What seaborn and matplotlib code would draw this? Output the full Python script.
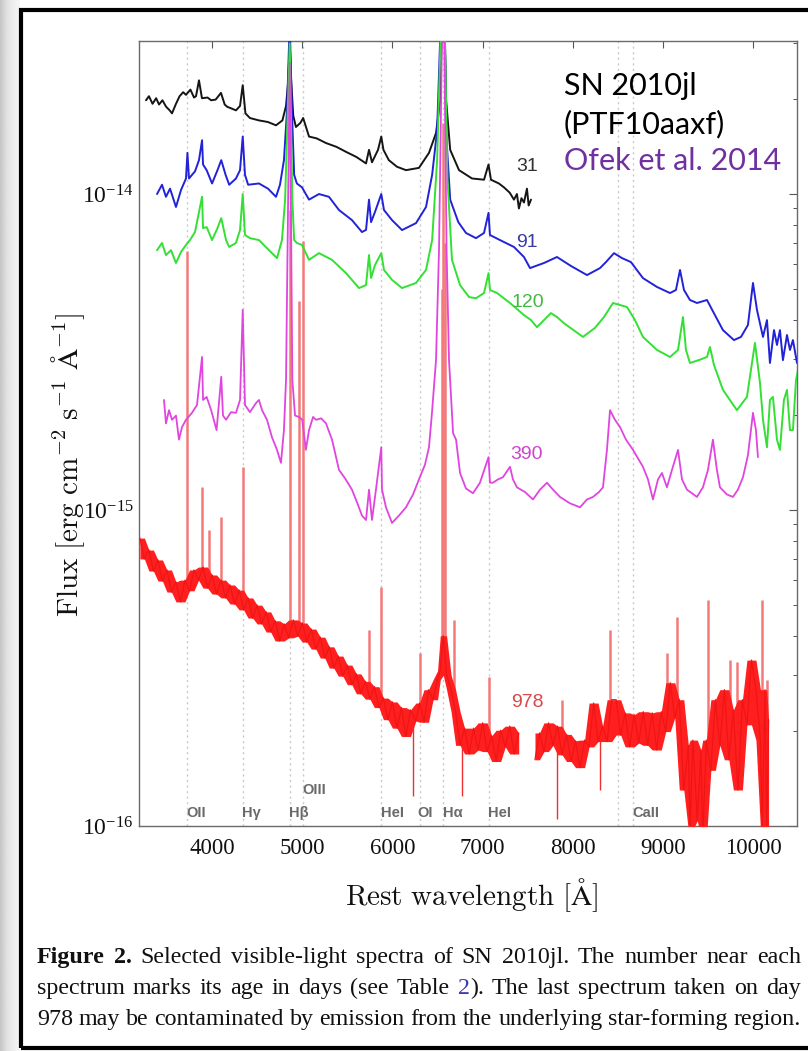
import numpy as np
import pandas as pd
import matplotlib
matplotlib.use("Agg")
import matplotlib.pyplot as plt
import seaborn as sns
from matplotlib.patches import Rectangle
from matplotlib.ticker import NullLocator, FixedLocator, LogFormatterSciNotation, NullFormatter

# ---------------- data (wavelength in Angstrom, flux in 1e-15 erg/cm2/s/A) ----------------
black_wave = [3268, 3300, 3340, 3380, 3412, 3450, 3490, 3530, 3556, 3600,
              3640, 3680, 3711, 3760, 3800, 3822, 3855, 3888, 3950, 3990,
              4040, 4099, 4140, 4166, 4265, 4310, 4340, 4370, 4420, 4520,
              4620, 4709, 4780, 4820, 4845, 4861, 4877, 4900, 4930, 4980,
              5010, 5075, 5160, 5263, 5380, 5485, 5600, 5707, 5740, 5773,
              5840, 5876, 5900, 5960, 6050, 6150, 6294, 6405, 6483, 6530,
              6563, 6595, 6640, 6738, 6882, 7015, 7065, 7092, 7180, 7236,
              7300, 7347, 7380, 7402, 7430, 7458, 7491, 7510, 7536]
black_flux = [19.8, 20.4, 19.3, 20.1, 19.2, 19.8, 18.9, 18.4, 18.0, 19.3,
              20.4, 21.0, 20.6, 21.4, 20.2, 20.4, 22.9, 20.1, 20.2, 19.8,
              19.9, 20.9, 19.2, 18.9, 18.4, 19.0, 22.1, 18.0, 17.4, 17.1,
              16.9, 16.5, 17.1, 19.0, 22.9, 30.0, 22.9, 17.7, 16.3, 16.8,
              17.4, 15.2, 15.0, 14.5, 14.1, 13.6, 13.1, 12.5, 13.8, 12.6,
              13.8, 15.2, 13.8, 12.8, 12.2, 11.9, 12.1, 13.5, 15.6, 19.8,
              60.0, 19.8, 13.8, 11.9, 11.2, 11.1, 12.4, 11.1, 10.8, 10.5,
              10.1, 9.6, 10.0, 9.0, 9.7, 9.4, 10.4, 9.2, 9.6]

blue_wave = [3390, 3445, 3489, 3534, 3600, 3656, 3711, 3727, 3744, 3811,
             3855, 3889, 3900, 3940, 4000, 4060, 4102, 4150, 4190, 4265,
             4310, 4340, 4365, 4400, 4520, 4620, 4709, 4753, 4797, 4831,
             4861, 4885, 4910, 4940, 4997, 5075, 5185, 5296, 5407, 5551,
             5662, 5707, 5740, 5763, 5806, 5876, 5906, 5995, 6106, 6261,
             6372, 6440, 6495, 6563, 6600, 6640, 6730, 6815, 6926, 7015,
             7065, 7081, 7192, 7347, 7458, 7525, 7680, 7824, 7979, 8157,
             8301, 8367, 8456, 8545, 8644, 8777, 8933, 9077, 9143, 9188,
             9232, 9298, 9376, 9487, 9575, 9664, 9786, 9864, 9941, 9997,
             10041, 10108, 10152, 10185, 10230, 10263, 10296, 10329, 10374, 10407,
             10440, 10485]
blue_flux = [10.0, 10.7, 9.8, 10.4, 9.1, 10.3, 11.2, 13.5, 11.2, 11.8,
             12.8, 14.8, 12.4, 11.9, 10.8, 11.9, 12.8, 11.5, 10.7, 11.2,
             11.9, 15.2, 11.5, 10.7, 10.8, 10.4, 9.8, 10.7, 12.8, 18.4,
             35.0, 18.4, 11.5, 10.8, 10.5, 9.6, 10.0, 9.8, 8.9, 8.27,
             7.58, 7.7, 9.6, 8.15, 8.77, 10.0, 8.9, 8.27, 7.69, 8.09,
             9.1, 11.5, 15.9, 60.0, 14.8, 9.6, 8.15, 7.53, 7.25, 7.53,
             8.72, 7.42, 7.15, 6.80, 6.32, 5.83, 6.05, 6.32, 5.92, 5.54,
             5.83, 6.09, 6.5, 6.27, 6.09, 5.42, 5.08, 4.86, 4.97, 5.75,
             4.97, 4.62, 4.52, 4.62, 4.14, 3.71, 3.45, 3.53, 3.85, 5.23,
             4.30, 3.53, 3.99, 2.92, 3.71, 3.33, 3.71, 2.98, 3.58, 3.21,
             3.45, 2.92]

green_wave = [3390, 3445, 3489, 3545, 3600, 3656, 3711, 3755, 3811, 3889,
              3900, 3940, 4000, 4060, 4102, 4155, 4190, 4265, 4310, 4340,
              4365, 4420, 4520, 4664, 4720, 4775, 4810, 4861, 4890, 4910,
              4940, 4997, 5075, 5185, 5330, 5485, 5629, 5707, 5740, 5763,
              5806, 5876, 5906, 5995, 6106, 6261, 6372, 6440, 6495, 6563,
              6610, 6660, 6749, 6849, 6926, 7015, 7065, 7081, 7160, 7303,
              7458, 7536, 7602, 7757, 7824, 7902, 8112, 8245, 8345, 8445,
              8600, 8689, 8777, 8933, 9077, 9166, 9221, 9254, 9298, 9409,
              9487, 9520, 9564, 9664, 9819, 9930, 10019, 10075, 10108, 10152,
              10185, 10218, 10263, 10296, 10340, 10374, 10407, 10440, 10474, 10496]
green_flux = [6.64, 7.0, 6.41, 6.64, 6.05, 6.56, 6.9, 7.15, 7.58, 9.8,
              7.8, 7.86, 7.15, 7.8, 8.39, 7.15, 6.80, 7.0, 7.69, 10.0,
              7.42, 7.25, 7.15, 6.5, 6.27, 7.15, 9.6, 30.0, 9.6, 7.15,
              7.0, 6.9, 6.19, 6.5, 6.19, 5.62, 5.04, 5.15, 6.41, 5.42,
              5.96, 6.5, 5.75, 5.35, 5.04, 5.23, 5.75, 7.15, 12.8, 60.0,
              11.1, 6.19, 5.15, 4.72, 4.68, 4.86, 5.62, 4.97, 4.86, 4.52,
              4.14, 3.99, 3.79, 4.2, 4.08, 3.9, 3.53, 3.77, 4.08, 4.52,
              4.39, 3.99, 3.53, 3.21, 3.05, 3.21, 4.08, 3.21, 2.92, 2.99,
              3.05, 3.28, 2.88, 2.4, 2.07, 2.28, 3.38, 2.52, 1.93, 1.58,
              2.23, 2.28, 1.67, 1.55, 2.23, 2.4, 1.79, 1.79, 2.58, 2.77]

magenta_wave = [3467, 3489, 3523, 3556, 3600, 3633, 3667, 3711, 3777, 3833,
                3889, 3900, 3940, 3990, 4050, 4102, 4121, 4155, 4210, 4265,
                4310, 4340, 4365, 4420, 4487, 4520, 4554, 4609, 4664, 4720,
                4764, 4797, 4820, 4861, 4890, 4920, 4964, 5000, 5040, 5075,
                5120, 5152, 5210, 5263, 5330, 5407, 5474, 5551, 5617, 5662,
                5707, 5740, 5773, 5817, 5876, 5884, 5928, 5995, 6072, 6150,
                6228, 6294, 6360, 6405, 6438, 6483, 6516, 6563, 6600, 6627,
                6672, 6705, 6749, 6815, 6893, 6970, 7065, 7081, 7114, 7170,
                7225, 7303, 7336, 7380, 7469, 7558, 7636, 7713, 7780, 7857,
                7968, 8079, 8157, 8223, 8290, 8334, 8378, 8412, 8467, 8523,
                8589, 8667, 8777, 8833, 8888, 8944, 8988, 9043, 9099, 9166,
                9210, 9265, 9376, 9442, 9498, 9553, 9597, 9631, 9708, 9775,
                9830, 9886, 9941, 9997, 10030, 10052]
magenta_flux = [2.23, 1.88, 2.07, 1.93, 1.99, 1.67, 1.83, 1.93, 2.03, 2.15,
                3.05, 2.23, 2.28, 2.07, 1.79, 2.64, 1.99, 1.93, 2.04, 2.03,
                2.23, 4.30, 2.15, 2.04, 2.18, 2.23, 2.07, 1.93, 1.70, 1.55,
                1.41, 1.79, 2.58, 26.0, 2.58, 1.99, 1.97, 1.93, 1.55, 1.79,
                1.97, 1.93, 1.95, 1.88, 1.67, 1.34, 1.26, 1.16, 1.04, 0.96,
                0.93, 1.16, 0.93, 1.16, 1.58, 1.16, 1.02, 0.91, 0.96, 1.02,
                1.12, 1.25, 1.39, 1.58, 2.03, 2.98, 6.64, 60.0, 6.64, 2.98,
                1.75, 1.67, 1.31, 1.17, 1.13, 1.22, 1.47, 1.22, 1.22, 1.25,
                1.27, 1.37, 1.25, 1.18, 1.14, 1.08, 1.16, 1.22, 1.16, 1.10,
                1.05, 1.02, 1.08, 1.10, 1.14, 1.18, 1.55, 2.07, 1.93, 1.83,
                1.67, 1.55, 1.37, 1.25, 1.08, 1.25, 1.31, 1.18, 1.34, 1.55,
                1.25, 1.16, 1.10, 1.18, 1.34, 1.67, 1.34, 1.18, 1.12, 1.10,
                1.16, 1.27, 1.49, 2.03, 1.79, 1.47]

# day-978 continuum (noisy), its narrow emission lines and sharp dips
red_wave = [3200, 3250, 3300, 3350, 3400, 3450, 3500, 3550, 3600, 3650,
            3700, 3750, 3800, 3850, 3900, 3950, 4000, 4050, 4100, 4150,
            4200, 4250, 4300, 4350, 4400, 4450, 4500, 4550, 4600, 4650,
            4700, 4750, 4800, 4850, 4900, 4950, 5000, 5050, 5100, 5150,
            5200, 5250, 5300, 5350, 5400, 5450, 5500, 5550, 5600, 5650,
            5700, 5750, 5800, 5850, 5900, 5950, 6000, 6050, 6100, 6150,
            6200, 6260, 6300, 6350, 6400, 6450, 6500, 6530, 6563,
            6600, 6650, 6700, 6750, 6800, 6850, 6900, 6950, 7000, 7050,
            7100, 7150, 7200, 7250, 7300, 7350, 7400, 7480, 7580, 7630,
            7680, 7730, 7780, 7830, 7880, 7930, 7980, 8030, 8080,
            8130, 8180, 8230, 8280, 8330, 8380, 8430, 8480, 8530, 8580,
            8630, 8680, 8730, 8780, 8830, 8880, 8930, 8980, 9030, 9080,
            9130, 9180, 9230, 9280, 9300, 9330, 9380, 9420, 9440, 9480,
            9530, 9580, 9630, 9680, 9730, 9780, 9830, 9880, 9930, 9980,
            10030, 10080, 10100, 10130, 10150, 10170]
red_flux = [0.815, 0.700, 0.747, 0.641, 0.695, 0.596, 0.646, 0.550, 0.592, 0.512,
            0.600, 0.555, 0.646, 0.600, 0.660, 0.566, 0.623, 0.542, 0.600, 0.527,
            0.579, 0.504, 0.558, 0.483, 0.527, 0.455, 0.500, 0.436, 0.476, 0.411,
            0.446, 0.385, 0.436, 0.394, 0.449, 0.399, 0.439, 0.382, 0.420, 0.363,
            0.396, 0.340, 0.369, 0.316, 0.345, 0.298, 0.323, 0.280, 0.303, 0.262,
            0.287, 0.252, 0.276, 0.237, 0.254, 0.217, 0.247, 0.204, 0.237, 0.192,
            0.233, 0.215, 0.245, 0.213, 0.270, 0.251, 0.290, 0.31, 0.40,
            0.30, 0.27, 0.230, 0.180, 0.204, 0.169, 0.204, 0.174, 0.212, 0.172,
            0.193, 0.160, 0.201, 0.178, 0.207, 0.169, 0.197, np.nan, 0.162, 0.197,
            0.172, 0.212, 0.180, 0.207, 0.168, 0.195, 0.160, 0.186, 0.153,
            0.187, 0.178, 0.245, 0.185, 0.207, 0.185, 0.251, 0.251, 0.194, 0.228,
            0.178, 0.225, 0.183, 0.230, 0.180, 0.228, 0.174, 0.230, 0.199, 0.284,
            0.220, 0.251, 0.130, 0.180, 0.097, 0.187, 0.104, 0.174, 0.090, 0.187,
            0.150, 0.251, 0.180, 0.270, 0.162, 0.233, 0.130, 0.251, 0.209, 0.335,
            0.270, 0.187, 0.097, 0.270, 0.097, 0.217]

red_line_wave = [3727, 3889, 3970, 4102, 4340, 4861, 4959, 5007, 5740, 5876,
                 6300, 6548, 6563, 6583, 6678, 7065, 7880, 8412, 9043, 9154,
                 9498, 9742, 9820, 10097, 10152]
red_line_base = [0.56, 0.61, 0.58, 0.58, 0.50, 0.42, 0.41, 0.40, 0.27, 0.25,
                 0.22, 0.35, 0.40, 0.35, 0.25, 0.18, 0.17, 0.25, 0.20, 0.25,
                 0.18, 0.20, 0.20, 0.22, 0.20]
red_line_peak = [6.6, 1.18, 0.865, 0.95, 1.368, 8.9, 4.6, 7.1, 0.417, 0.570,
                 0.353, 5.0, 16.8, 7.0, 0.449, 0.296, 0.25, 0.417, 0.353, 0.458,
                 0.52, 0.335, 0.33, 0.52, 0.29]
red_dip_wave = [6230, 6771, 7824, 8301]
red_dip_top = [0.215, 0.19, 0.19, 0.20]
red_dip_bottom = [0.124, 0.124, 0.105, 0.13]

series_days = ["31", "91", "120", "390", "978"]
series_colors = ["#151515", "#2222d8", "#33e033", "#e045e0", "#ff1f1f"]
label_colors = ["#303030", "#3a3aa8", "#44b844", "#cc44cc", "#d84848"]
label_wave = [7491, 7491, 7502, 7491, 7491]
label_flux = [12.2, 7.05, 4.55, 1.50, 0.246]

line_names = ["OII", "Hγ", "Hβ", "OIII", "HeI", "OI", "Hα", "HeI", "CaII"]
line_label_wave = [3822, 4432, 4964, 5130, 6006, 6361, 6671, 7192, 8811]
line_label_flux = [0.110, 0.110, 0.110, 0.130, 0.110, 0.110, 0.110, 0.110, 0.110]
marker_lines = [3727, 4340, 4861, 5007, 5876, 6300, 6563, 7065, 8498, 8662]

x_ticks = [4000, 5000, 6000, 7000, 8000, 9000, 10000]
y_ticks = [1e-16, 1e-15, 1e-14]
y_minor_ticks = [2e-16, 3e-16, 4e-16, 5e-16, 6e-16, 7e-16, 8e-16, 9e-16,
                 2e-15, 3e-15, 4e-15, 5e-15, 6e-15, 7e-15, 8e-15, 9e-15,
                 2e-14, 3e-14]

# ---------------- figure ----------------
sns.set_theme(style="white")
plt.rcParams["font.family"] = ["Liberation Serif", "DejaVu Serif"]
plt.rcParams["mathtext.fontset"] = "cm"

W, H = 808, 1051
fig = plt.figure(figsize=(W / 100, H / 100), dpi=100)
fig.patch.set_facecolor("white")

# slide background strip on the left
bg = fig.add_axes([0, 0, 1, 1], zorder=-10)
bg.set_axis_off()
strip = np.array([[0.78, 0.82, 0.85, 0.88, 0.90, 0.92, 0.93, 0.94, 0.95, 0.96]])
bg.imshow(strip, extent=[0, 20, H, 0], cmap="gray", vmin=0, vmax=1,
          aspect="auto", interpolation="bilinear")
bg.set_xlim(0, W)
bg.set_ylim(H, 0)

fig.add_artist(Rectangle((21 / W, 1 - 1048 / H), (840 - 21) / W, (1048 - 10) / H,
                         transform=fig.transFigure, fill=False, lw=3.0,
                         ec="black", clip_on=False))

ax = fig.add_axes([139 / W, 1 - 826 / H, 658 / W, 785 / H])
ax.set_facecolor("white")

for lam in marker_lines:
    ax.axvline(lam, color="#c9c9c9", lw=1.0, ls=(0, (1.5, 2.5)), zorder=0)

# narrow emission lines and dips of the last spectrum
ax.vlines(red_line_wave, np.array(red_line_base) * 1e-15, np.array(red_line_peak) * 1e-15,
          color="#f47a7a", lw=1.8, zorder=2)
ax.vlines(red_dip_wave, np.array(red_dip_bottom) * 1e-15, np.array(red_dip_top) * 1e-15,
          color="#ee3030", lw=1.0, zorder=2)

spectra = [(black_wave, black_flux), (blue_wave, blue_flux), (green_wave, green_flux),
           (magenta_wave, magenta_flux), (red_wave, red_flux)]
widths = [1.4, 1.4, 1.4, 1.3, 0.9]
for k, ((wv, fl), col, lw) in enumerate(zip(spectra, series_colors, widths)):
    df = pd.DataFrame({"wave": wv, "flux": np.array(fl) * 1e-15})
    df["seg"] = df["flux"].isna().cumsum()
    df = df.dropna()
    if k == 4:
        # noisy continuum: shade the local range spanned by neighbouring samples
        for _, seg in df.groupby("seg"):
            hi = seg["flux"].rolling(3, center=True, min_periods=1).max()
            lo = seg["flux"].rolling(3, center=True, min_periods=1).min()
            ax.fill_between(seg["wave"], lo, hi, color=col, lw=0, zorder=3)
        col = "#f01515"
    sns.lineplot(data=df, x="wave", y="flux", units="seg", estimator=None,
                 sort=False, color=col, lw=lw, ax=ax, legend=False, zorder=3)

ax.set_yscale("log")
ax.set_xlim(3190, 10485)
ax.set_ylim(1e-16, 3.05e-14)

for d, c, lw_, lf in zip(series_days, label_colors, label_wave, label_flux):
    ax.text(lw_, lf * 1e-15, d, color=c, fontsize=14, ha="center", va="center",
            family=["Liberation Sans Narrow", "Liberation Sans"], zorder=5)

for nm, lw_, lf in zip(line_names, line_label_wave, line_label_flux):
    ax.text(lw_, lf * 1e-15, nm, color="#6a6a6a", fontsize=10.5, fontweight="bold",
            ha="center", va="center", family=["Liberation Sans Narrow", "Liberation Sans"],
            zorder=5)

ax.xaxis.set_major_locator(FixedLocator(x_ticks))
ax.xaxis.set_minor_locator(NullLocator())
ax.yaxis.set_major_locator(FixedLocator(y_ticks))
ax.yaxis.set_major_formatter(LogFormatterSciNotation())
ax.yaxis.set_minor_locator(FixedLocator(y_minor_ticks))
ax.yaxis.set_minor_formatter(NullFormatter())
ax.tick_params(axis="x", which="major", direction="in", length=5, width=0.8,
               color="#555555", top=True, labelsize=16.5, pad=9, labelcolor="#111111")
ax.tick_params(axis="y", which="major", direction="in", length=6, width=0.8,
               color="#555555", right=True, labelsize=17, pad=4, labelcolor="#111111")
ax.tick_params(axis="y", which="minor", direction="in", length=3, width=0.7,
               color="#555555", right=True)
for sp in ax.spines.values():
    sp.set_color("#6a6a6a")
    sp.set_linewidth(1.0)
ax.grid(False)

ax.set_xlabel(r"$\mathrm{Rest\ wavelength\ [\AA]}$", fontsize=21, color="#111111", va="center")
ax.xaxis.set_label_coords((472 - 139) / 658, -(895 - 826) / 785)
ax.set_ylabel(r"$\mathrm{Flux\ [erg\ cm^{-2}\ s^{-1}\ \AA^{-1}]}$", fontsize=21,
              color="#111111", va="center")
ax.yaxis.set_label_coords((68 - 139) / 658, 1 - (465 - 41) / 785)

renderer = fig.canvas.get_renderer()


def fit_width(t, target_px):
    w = t.get_window_extent(renderer).width
    t.set_fontsize(t.get_fontsize() * target_px / w)


# annotation in the top-right corner
ann_font = ["Lato", "DejaVu Sans"]
t1 = fig.text(564 / W, 1 - 95 / H, "SN 2010jl", color="black", family=ann_font,
              fontsize=18, va="baseline", ha="left")
t2 = fig.text(564 / W, 1 - 133 / H, "(PTF10aaxf)", color="black", family=ann_font,
              fontsize=18, va="baseline", ha="left")
t3 = fig.text(564 / W, 1 - 170 / H, "Ofek et al. 2014", color="#7030a0", family=ann_font,
              fontsize=18, va="baseline", ha="left")
fit_width(t3, 217)
t1.set_fontsize(t3.get_fontsize())
t2.set_fontsize(t3.get_fontsize())


def draw_justified(pieces, y_px, x0_px, x1_px, size):
    tokens = []
    prev_end_space = True
    for text, props in pieces:
        parts = text.split(" ")
        for i, p in enumerate(parts):
            if p == "":
                continue
            if i == 0 and tokens and not prev_end_space:
                tokens[-1].append((p, props))
            else:
                tokens.append([(p, props)])
        prev_end_space = text.endswith(" ")
    arts, wsum = [], []
    for tok in tokens:
        ta, tw = [], 0.0
        for s, props in tok:
            t = fig.text(0.5, 1 - y_px / H, s, fontsize=size, va="baseline", ha="left",
                         family=["Liberation Serif"], **props)
            w = t.get_window_extent(renderer).width
            ta.append((t, w))
            tw += w
        arts.append(ta)
        wsum.append(tw)
    gap = ((x1_px - x0_px) - sum(wsum)) / (len(tokens) - 1)
    x = x0_px
    for ta, tw in zip(arts, wsum):
        xx = x
        for t, w in ta:
            t.set_x(xx / W)
            xx += w
        x += tw + gap


cap_size = 17.3
draw_justified([("Figure 2.", {"weight": "bold", "color": "#111111"}),
                (" Selected visible-light spectra of SN 2010jl. The number near each",
                 {"color": "#111111"})], 963, 37, 801, cap_size)
draw_justified([("spectrum marks its age in days (see Table ", {"color": "#111111"}),
                ("2", {"color": "#3a3ab0"}),
                ("). The last spectrum taken on day", {"color": "#111111"})],
               994, 37, 801, cap_size)
draw_justified([("978 may be contaminated by emission from the underlying star-forming region.",
                 {"color": "#111111"})], 1025, 37, 801, cap_size)

fig.savefig("out.png", dpi=100, facecolor="white")
